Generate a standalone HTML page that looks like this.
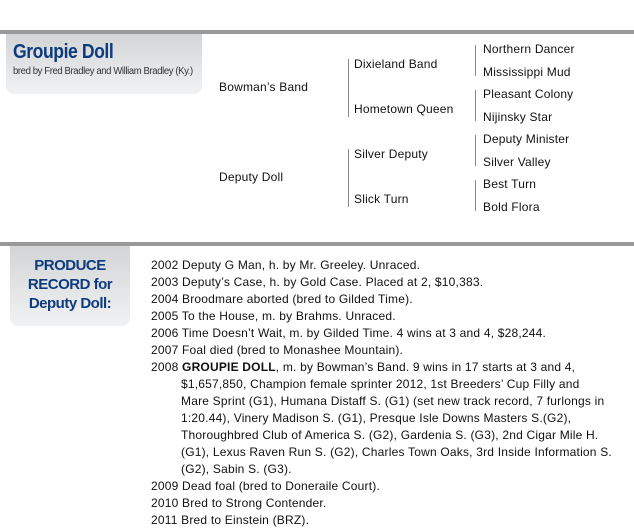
<!DOCTYPE html>
<html><head><style>
body{margin:0;width:634px;height:527px;background:#fff;position:relative;font-family:"Liberation Sans",sans-serif;color:#111;overflow:hidden}
.a{position:absolute;white-space:nowrap;font-size:12px;letter-spacing:0.2px}
.bar{position:absolute;left:0;width:634px;height:4px;background:#999}
.box{position:absolute;background:linear-gradient(#d2d4d6,#f1f2f3);border-radius:0 0 8px 8px}
.vl{position:absolute;width:1px;background:#888}
.p{position:absolute;left:151px;font-size:12px;line-height:17px;width:480px;letter-spacing:0.2px;white-space:nowrap}
.p div{padding-left:30px;text-indent:-30px}
</style></head><body>
<div class="bar" style="top:30px"></div>
<div class="box" style="left:6px;top:34px;width:196px;height:60px"></div>
<div class="a" style="left:13px;top:41px;font-size:20px;font-weight:bold;color:#0d3b7e;letter-spacing:-0.5px;transform:scaleX(0.88);transform-origin:0 0">Groupie Doll</div>
<div class="a" style="left:13px;top:66px;font-size:10px;color:#333;letter-spacing:-0.4px;transform:scaleX(0.95);transform-origin:0 0">bred by Fred Bradley and William Bradley (Ky.)</div>
<div class="a" style="left:219px;top:80px">Bowman’s Band</div>
<div class="a" style="left:219px;top:170px">Deputy Doll</div>
<div class="vl" style="left:348px;top:59px;height:58px"></div>
<div class="vl" style="left:348px;top:149px;height:58px"></div>
<div class="a" style="left:354px;top:57px">Dixieland Band</div>
<div class="a" style="left:354px;top:102px">Hometown Queen</div>
<div class="a" style="left:354px;top:147px">Silver Deputy</div>
<div class="a" style="left:354px;top:192px">Slick Turn</div>
<div class="vl" style="left:475px;top:45px;height:31px"></div>
<div class="vl" style="left:475px;top:90px;height:31px"></div>
<div class="vl" style="left:475px;top:135px;height:31px"></div>
<div class="vl" style="left:475px;top:180px;height:31px"></div>
<div class="a" style="left:483px;top:42px">Northern Dancer</div>
<div class="a" style="left:483px;top:65px">Mississippi Mud</div>
<div class="a" style="left:483px;top:87px">Pleasant Colony</div>
<div class="a" style="left:483px;top:110px">Nijinsky Star</div>
<div class="a" style="left:483px;top:132px">Deputy Minister</div>
<div class="a" style="left:483px;top:155px">Silver Valley</div>
<div class="a" style="left:483px;top:177px">Best Turn</div>
<div class="a" style="left:483px;top:200px">Bold Flora</div>
<div class="bar" style="top:242px"></div>
<div class="box" style="left:10px;top:246px;width:120px;height:80px"></div>
<div class="a" style="left:10px;width:120px;text-align:center;top:256px;font-size:15px;line-height:19px;font-weight:bold;color:#0d3b7e;letter-spacing:-0.5px">PRODUCE<br>RECORD for<br>Deputy Doll:</div>
<div class="p" style="top:257px">
<div>2002 Deputy G Man, h. by Mr. Greeley. Unraced.</div>
<div>2003 Deputy’s Case, h. by Gold Case. Placed at 2, $10,383.</div>
<div>2004 Broodmare aborted (bred to Gilded Time).</div>
<div>2005 To the House, m. by Brahms. Unraced.</div>
<div>2006 Time Doesn’t Wait, m. by Gilded Time. 4 wins at 3 and 4, $28,244.</div>
<div>2007 Foal died (bred to Monashee Mountain).</div>
<div>2008 <b>GROUPIE DOLL</b>, m. by Bowman’s Band. 9 wins in 17 starts at 3 and 4,<br>$1,657,850, Champion female sprinter 2012, 1st Breeders’ Cup Filly and<br>Mare Sprint (G1), Humana Distaff S. (G1) (set new track record, 7 furlongs in<br>1:20.44), Vinery Madison S. (G1), Presque Isle Downs Masters S.(G2),<br>Thoroughbred Club of America S. (G2), Gardenia S. (G3), 2nd Cigar Mile H.<br>(G1), Lexus Raven Run S. (G2), Charles Town Oaks, 3rd Inside Information S.<br>(G2), Sabin S. (G3).</div>
<div>2009 Dead foal (bred to Doneraile Court).</div>
<div>2010 Bred to Strong Contender.</div>
<div>2011 Bred to Einstein (BRZ).</div>
</div>
</body></html>
